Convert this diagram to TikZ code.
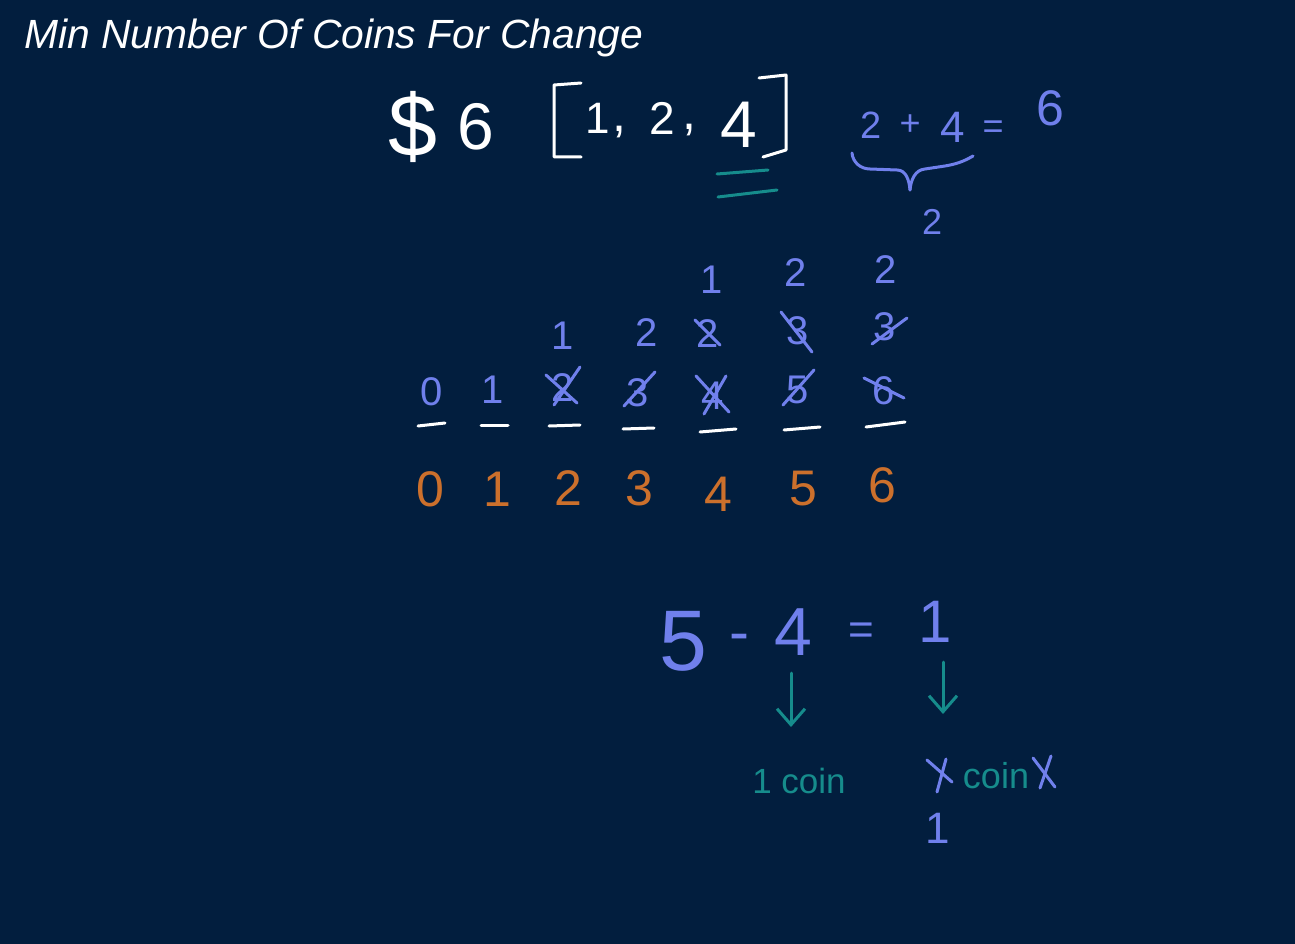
\documentclass[tikz,border=0pt]{standalone}
\usepackage{fontspec}
\setmainfont{Liberation Sans}
\usetikzlibrary{arrows.meta}
\definecolor{bg}{RGB}{2,30,62}
\definecolor{inkblue}{RGB}{112,128,236}
\definecolor{inkorange}{RGB}{204,112,44}
\definecolor{inkteal}{RGB}{22,140,140}
\newcommand\myfs[1]{\fontsize{#1}{#1}\selectfont}
\begin{document}
\begin{tikzpicture}[x=1pt,y=-1pt,
  wtxt/.style={text=white, inner sep=0pt},
  btxt/.style={text=inkblue, inner sep=0pt},
  otxt/.style={text=inkorange, inner sep=0pt, font=\myfs{50}},
  ttxt/.style={text=inkteal, inner sep=0pt},
  cell/.style={btxt, font=\myfs{40}},
  wpen/.style={draw=white, line width=3pt, line cap=round, line join=round},
  bpen/.style={draw=inkblue, line width=3pt, line cap=round, line join=round},
  tpen/.style={draw=inkteal, line width=3pt, line cap=round, line join=round},
  tarrow/.style={tpen, -{Straight Barb[length=16pt,width=28pt,line width=3pt]}},
  uline/.style={wpen},
]
\path[fill=bg] (0,0) rectangle (1295,944);

% title
\node[wtxt, font=\myfs{40.8}\itshape, anchor=west] (title) at (24,38) {Min Number Of Coins For Change};

% $6 [1,2,4]
\node[wtxt, font=\myfs{88}] (dollar) at (413,127) {\$};
\node[wtxt, font=\myfs{66}] (six) at (476,127) {6};
\draw[wpen] (581,83) -- (554,85) -- (554,157) -- (581,157);
\node[wtxt, font=\myfs{44}] (c1) at (598,118) {1};
\node[wtxt, font=\myfs{50}] (cm1) at (619,132) {,};
\node[wtxt, font=\myfs{46}] (c2) at (662,118) {2};
\node[wtxt, font=\myfs{50}] (cm2) at (689,130) {,};
\node[wtxt, font=\myfs{66}] (c4) at (739,125) {4};
\draw[wpen] (759,78) -- (786,75) -- (786,150) -- (763,157);
\draw[tpen] (717,174) -- (768,170);
\draw[tpen] (718,197) -- (777,190);

% 2+4=6
\node[btxt, font=\myfs{38}] (s2) at (871,125) {2};
\node[btxt, font=\myfs{36}] (splus) at (910,125) {+};
\node[btxt, font=\myfs{44}] (s4) at (953,127) {4};
\node[btxt, font=\myfs{36}] (seq) at (993,130) {=};
\node[btxt, font=\myfs{50}] (s6) at (1050,108) {6};
\draw[bpen] (852,153) to[out=-85,in=180] (870,169) -- (897,170) to[out=0,in=95] (910,190);
\draw[bpen] (910,190) to[out=85,in=185] (925,169) -- (945,166) to[out=10,in=-150] (973,156);
\node[btxt, font=\myfs{36}] (b2) at (932,222) {2};

% table underlines
\draw[uline] (418,426) -- (445,423);
\draw[uline] (481,425) -- (508,425);
\draw[uline] (549,426) -- (580,425);
\draw[uline] (623,429) -- (654,428);
\draw[uline] (700,432) -- (736,429);
\draw[uline] (784,430) -- (820,427);
\draw[uline] (866,427) -- (905,422);

% table row 1
\node[cell] (v0) at (432,392) {0};
\node[cell] (v1) at (493,390) {1};
\node[cell] (v2) at (563,388) {2};
\node[cell] (v3) at (638,393) {3};
\node[cell] (v4) at (713,396) {4};
\node[cell] (v5) at (798,390) {5};
\node[cell] (v6) at (884,391) {6};
\draw[bpen] (546,375) -- (577,403);
\draw[bpen] (554,405) -- (580,367);
\draw[bpen] (624,406) -- (655,372);
\draw[bpen] (696,376) -- (729,412);
\draw[bpen] (704,414) -- (726,376);
\draw[bpen] (783,405) -- (814,370);
\draw[bpen] (864,378) -- (904,398);

% table row 2
\node[cell] (w2) at (563,336) {1};
\node[cell] (w3) at (647,333) {2};
\node[cell] (w4) at (708,334) {2};
\node[cell] (w5) at (798,331) {3};
\node[cell] (w6) at (885,327) {3};
\draw[bpen] (695,320) -- (720,345);
\draw[bpen] (781,312) -- (812,352);
\draw[bpen] (872,344) -- (907,318);

% table row 3
\node[cell] (x4) at (712,280) {1};
\node[cell] (x5) at (796,273) {2};
\node[cell] (x6) at (886,270) {2};

% indices
\node[otxt] (i0) at (430,489) {0};
\node[otxt] (i1) at (497,489) {1};
\node[otxt] (i2) at (568,488) {2};
\node[otxt] (i3) at (639,488) {3};
\node[otxt] (i4) at (718,494) {4};
\node[otxt] (i5) at (803,489) {5};
\node[otxt] (i6) at (882,485) {6};

% 5-4=1
\node[btxt, font=\myfs{86}] (e5) at (683,641) {5};
\node[btxt, font=\myfs{60}] (emin) at (739,643) {-};
\node[btxt, font=\myfs{68}] (e4) at (793,632) {4};
\node[btxt, font=\myfs{44}] (eeq) at (861,634) {=};
\node[btxt, font=\myfs{60}] (e1) at (935,622) {1};

\coordinate (a1s) at (791,673);
\coordinate (a1e) at (791,727);
\coordinate (a2s) at (943,662);
\coordinate (a2e) at (943,714);
\draw[tarrow] (a1s) -- (a1e);
\draw[tarrow] (a2s) -- (a2e);

\node[ttxt, font=\myfs{35}] (onecoin) at (799,781) {1 coin};
\node[ttxt, font=\myfs{36}] (coin2) at (996,776) {coin};
\draw[bpen] (927,760) -- (952,782);
\draw[bpen] (946,759) -- (937,792);
\draw[bpen] (1033,758) -- (1055,787);
\draw[bpen] (1051,756) -- (1040,788);
\node[btxt, font=\myfs{44}] (one2) at (938,828) {1};
\end{tikzpicture}
\end{document}
